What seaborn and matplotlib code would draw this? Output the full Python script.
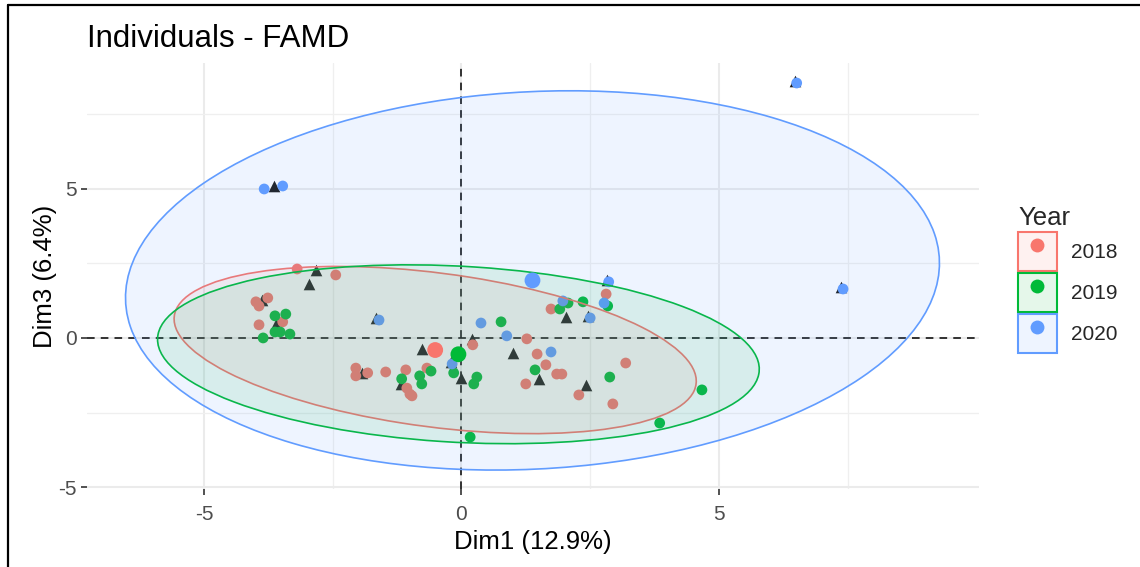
import numpy as np
import pandas as pd
import matplotlib
matplotlib.use("Agg")
import matplotlib.pyplot as plt
import seaborn as sns
from matplotlib.patches import Ellipse, Patch
from matplotlib.lines import Line2D
from matplotlib.colors import to_rgba
from matplotlib.ticker import FixedLocator

# ---------------- data ----------------
years = ["2018", "2019", "2020"]
year_colors = ["#F8766D", "#00BA38", "#619CFF"]

dim1_2018 = [-3.19, -2.44, -3.99, -3.76, -3.93, -3.47, -3.93, -2.05, -2.05, -1.82,
             -1.47, -1.08, -0.67, -1.06, -1.00, -0.96, 0.22, 1.27, 1.74, 2.81,
             1.47, 1.64, 3.19, 1.85, 1.95, 1.25, 2.28, 2.94]
dim3_2018 = [2.31, 2.11, 1.21, 1.34, 1.07, 0.54, 0.44, -1.01, -1.27, -1.17,
             -1.14, -1.07, -1.01, -1.68, -1.88, -1.94, -0.23, -0.03, 0.97, 1.47,
             -0.54, -0.90, -0.84, -1.21, -1.21, -1.54, -1.91, -2.21]

dim1_2019 = [-3.62, -3.41, -3.62, -3.52, -3.33, -3.85, -0.59, -1.16, -0.81, -0.77,
             -0.15, 0.30, 0.24, 0.77, 1.91, 2.07, 2.36, 2.84, 1.43, 2.88,
             4.67, 3.85, 0.17]
dim3_2019 = [0.74, 0.80, 0.20, 0.20, 0.13, 0.00, -1.11, -1.37, -1.27, -1.54,
             -1.17, -1.31, -1.54, 0.54, 0.97, 1.17, 1.21, 1.07, -1.07, -1.31,
             -1.74, -2.85, -3.32]

dim1_2020 = [6.51, 7.41, -3.83, -3.47, -1.60, 2.86, 2.50, 1.97, 2.77, 0.38,
             0.88, 1.74, -0.18]
dim3_2020 = [8.54, 1.64, 4.99, 5.09, 0.60, 1.88, 0.67, 1.24, 1.17, 0.50,
             0.07, -0.47, -0.87]

# categories of qualitative variables (black triangles)
cat_dim1 = [-3.64, -2.83, -2.96, -3.87, -3.60, -1.93, -1.17, -0.77, 0.20, -0.01,
            1.00, 2.03, 1.50, 2.42, 6.47, 7.37, 2.82, 2.46, -1.65, -0.21]
cat_dim3 = [5.09, 2.28, 1.81, 1.27, 0.47, -1.17, -1.54, -0.37, -0.03, -1.34,
            -0.50, 0.70, -1.37, -1.57, 8.62, 1.72, 1.95, 0.75, 0.68, -0.79]

# concentration ellipses (semi-axes in data units, angle in degrees)
ellipse_semi_major = [5.21, 5.87, 7.96]
ellipse_semi_minor = [2.53, 2.94, 6.28]
ellipse_angle = [-15.3, -6.5, 11.3]

x_ticks = [-5, 0, 5]
y_ticks = [-5, 0, 5]

# ---------------- build frame ----------------
df = pd.concat([
    pd.DataFrame({"Dim1": dim1_2018, "Dim3": dim3_2018, "Year": "2018"}),
    pd.DataFrame({"Dim1": dim1_2019, "Dim3": dim3_2019, "Year": "2019"}),
    pd.DataFrame({"Dim1": dim1_2020, "Dim3": dim3_2020, "Year": "2020"}),
], ignore_index=True)
cats = pd.DataFrame({"Dim1": cat_dim1, "Dim3": cat_dim3})
means = df.groupby("Year", as_index=False)[["Dim1", "Dim3"]].mean()
palette = dict(zip(years, year_colors))

sns.set_theme(style="white")
plt.rcParams["font.family"] = ["Liberation Sans", "DejaVu Sans"]
plt.rcParams["axes.unicode_minus"] = False

W, H = 1140, 567
fig = plt.figure(figsize=(W / 100, H / 100), dpi=100)
px_l, px_r, px_t, px_b = 87, 979, 63, 489
ax = fig.add_axes([px_l / W, 1 - px_b / H, (px_r - px_l) / W, (px_b - px_t) / H])

# grid
ax.set_xlim(-7.27, 10.05)
ax.set_ylim(-5.06, 9.21)
ax.xaxis.set_major_locator(FixedLocator(x_ticks))
ax.yaxis.set_major_locator(FixedLocator(y_ticks))
ax.xaxis.set_minor_locator(FixedLocator([-7.5, -2.5, 2.5, 7.5]))
ax.yaxis.set_minor_locator(FixedLocator([-2.5, 2.5, 7.5]))
ax.grid(which="major", color="#EBEBEB", lw=1.5, zorder=0)
ax.grid(which="minor", color="#EFEFEF", lw=0.9, zorder=0)
ax.set_axisbelow(True)
for s in ax.spines.values():
    s.set_visible(False)
ax.tick_params(which="major", axis="both", length=4.2, width=1.2, color="#333333",
               labelcolor="#4D4D4D", labelsize=15, bottom=True, left=True)
ax.tick_params(which="major", axis="x", pad=7)
ax.tick_params(which="major", axis="y", pad=3)
ax.tick_params(which="minor", length=0)

# reference dashed lines
ax.axhline(0, color="black", lw=1.1, ls=(0, (5, 4)), zorder=1)
ax.axvline(0, color="black", lw=1.1, ls=(0, (5, 4)), zorder=1)

# category triangles
sns.scatterplot(data=cats, x="Dim1", y="Dim3", marker="^", color="#1A1A1A",
                s=70, linewidth=0, zorder=2, ax=ax, legend=False)

# individuals
sns.scatterplot(data=df, x="Dim1", y="Dim3", hue="Year", hue_order=years,
                palette=palette, s=60, linewidth=0, zorder=3, ax=ax, legend=False)

# ellipses
for i, yr in enumerate(years):
    row = means[means["Year"] == yr].iloc[0]
    e = Ellipse((row["Dim1"], row["Dim3"]), 2 * ellipse_semi_major[i],
                2 * ellipse_semi_minor[i], angle=ellipse_angle[i],
                facecolor=to_rgba(year_colors[i], 0.1),
                edgecolor=year_colors[i], lw=1.2, zorder=4)
    ax.add_patch(e)

# group means
sns.scatterplot(data=means, x="Dim1", y="Dim3", hue="Year", hue_order=years,
                palette=palette, s=130, linewidth=0, zorder=5, ax=ax, legend=False)

ax.set_xlabel("Dim1 (12.9%)", fontsize=18.5, color="black", labelpad=5)
ax.set_ylabel("Dim3 (6.4%)", fontsize=18.5, color="black", labelpad=1)

fig.text(px_l / W, 1 - 39 / H, "Individuals - FAMD", fontsize=22.5,
         ha="left", va="center", color="black")

# legend
handles = []
for c in year_colors:
    box = Patch(facecolor=to_rgba(c, 0.1), edgecolor=c, lw=1.5)
    dot = Line2D([], [], marker="o", ls="", color=c, markersize=10, mew=0)
    handles.append((box, dot))
leg = fig.legend(handles, years, title="Year", loc="upper left",
                 bbox_to_anchor=(1018 / W, 1 - 206 / H), frameon=False,
                 fontsize=15, title_fontsize=18.5, handlelength=1.85,
                 handleheight=2.5, labelspacing=0.1, handletextpad=0.7,
                 borderpad=0, borderaxespad=0, alignment="left")

# screenshot frame
fig.add_artist(Line2D([8 / W, 8 / W], [0, 1 - 5 / H], color="black", lw=1.6,
                      transform=fig.transFigure))
fig.add_artist(Line2D([8 / W, 1], [1 - 5 / H, 1 - 5 / H], color="black", lw=1.6,
                      transform=fig.transFigure))

fig.savefig("out.png", dpi=100)
